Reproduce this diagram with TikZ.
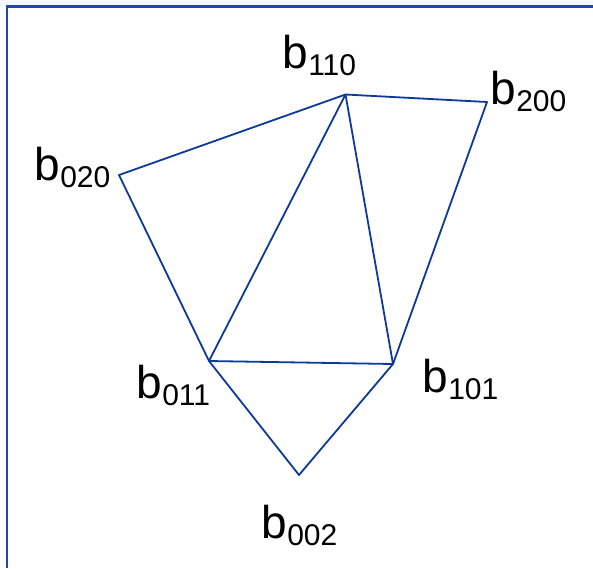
\documentclass[tikz,border=0pt]{standalone}
\usepackage{fontspec}
\setmainfont{Liberation Sans}
\definecolor{edgeblue}{HTML}{0D3A9A}
\definecolor{frameblue}{HTML}{1F4AA8}
\definecolor{tint}{HTML}{F3F8FE}
\newcommand{\blab}[1]{{\fontsize{46}{52}\selectfont b}\hspace{0.5pt}\raisebox{-7.5pt}{\fontsize{30}{34}\selectfont #1}}
\tikzset{
  edge/.style={draw=edgeblue, line width=1.8pt, line join=round},
  frame/.style={draw=frameblue, line width=2.2pt},
  lab/.style={anchor=base west, inner sep=0pt, text=black}
}
\begin{document}
\begin{tikzpicture}[x=1pt,y=-1pt]
\useasboundingbox (0,0) rectangle (593,568);
\fill[tint] (0,0) rectangle (593,6);
\fill[white] (0,6) rectangle (593,568);
\coordinate (f1) at (7,568);
\coordinate (f2) at (7,6.5);
\coordinate (f3) at (593,6.5);
\draw[frame] (f1) -- (f2) -- (f3);
% vertices
\coordinate (v110) at (345.5,94.5);
\coordinate (v200) at (487,102);
\coordinate (v020) at (119,175);
\coordinate (v011) at (209,361);
\coordinate (v101) at (393,364);
\coordinate (v002) at (299,475);
% edges
\draw[edge] (v020) -- (v110) -- (v200) -- (v101) -- (v011) -- cycle;
\draw[edge] (v110) -- (v011);
\draw[edge] (v110) -- (v101);
\draw[edge] (v011) -- (v002) -- (v101);
% labels
\node[lab] (l110) at (282,68) {\blab{110}};
\node[lab] (l200) at (490,104) {\blab{200}};
\node[lab] (l020) at (34,180) {\blab{020}};
\node[lab] (l011) at (136,398) {\blab{011}};
\node[lab] (l101) at (422,392) {\blab{101}};
\node[lab] (l002) at (261,538) {\blab{002}};
\end{tikzpicture}
\end{document}
